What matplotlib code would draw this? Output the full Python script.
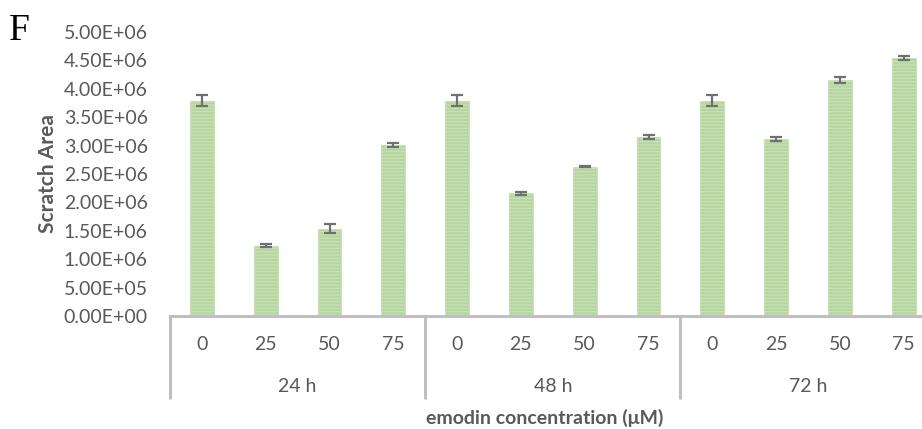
import matplotlib
matplotlib.use("Agg")
import matplotlib.pyplot as plt
import numpy as np

# Scratch area by emodin concentration at each time point
groups = ["24 h", "48 h", "72 h"]
concentrations = ["0", "25", "50", "75"]
area_24h = [3.79e6, 1.24e6, 1.54e6, 3.01e6]
area_48h = [3.79e6, 2.16e6, 2.63e6, 3.15e6]
area_72h = [3.79e6, 3.12e6, 4.15e6, 4.54e6]
err_24h = [0.10e6, 0.03e6, 0.075e6, 0.04e6]
err_48h = [0.10e6, 0.03e6, 0.01e6, 0.035e6]
err_72h = [0.10e6, 0.04e6, 0.05e6, 0.03e6]
y_ticks = np.arange(0, 5.01e6, 0.5e6)

values = area_24h + area_48h + area_72h
errors = err_24h + err_48h + err_72h

plt.rcParams["hatch.linewidth"] = 1.0
plt.rcParams["hatch.color"] = "#e2f0d9"

W, H, DPI = 922, 429, 100
fig = plt.figure(figsize=(W / DPI, H / DPI), dpi=DPI)
fig.patch.set_facecolor("white")

x0, x1 = 170, 935.6
y0, y1 = 316, 32
ax = fig.add_axes([x0 / W, 1 - y0 / H, (x1 - x0) / W, (y0 - y1) / H])

txt = "#595959"
font = ["Lato", "DejaVu Sans"]
fs = 14
n = len(values)
x = np.arange(n)
ax.bar(x, values, width=0.375, color="#b5d69f", edgecolor="#c5e0b4",
       linewidth=0.6, hatch="-----", zorder=2)
ax.errorbar(x, values, yerr=errors, fmt="none", ecolor="#707070",
            elinewidth=1.6, capsize=4.5, capthick=1.6, zorder=3)

ax.set_xlim(-0.5, n - 0.5)
ax.set_ylim(0, 5e6)
ax.set_yticks(y_ticks)
ax.set_yticklabels([f"{v:.2E}" for v in y_ticks], family=font,
                   fontsize=fs, color=txt)
ax.tick_params(axis="y", length=0, pad=16)
ax.set_xticks([])
for s in ["top", "right", "left"]:
    ax.spines[s].set_visible(False)
ax.spines["bottom"].set_color("#bfbfbf")
ax.spines["bottom"].set_linewidth(2.2)

ax.set_ylabel("Scratch Area", family=font, fontsize=15, fontweight="bold",
              color=txt, labelpad=4)

# category labels below the axis
tr = ax.get_xaxis_transform()
for i in range(n):
    ax.text(x[i], -29 / (y0 - y1), concentrations[i % 4], transform=tr,
            ha="center", va="center", family=font, fontsize=fs, color=txt,
            clip_on=False)
for g, name in enumerate(groups):
    ax.text(g * 4 + 1.5, -71 / (y0 - y1), name, transform=tr,
            ha="center", va="center", family=font, fontsize=fs, color=txt,
            clip_on=False)
for b in range(len(groups) + 1):
    ax.plot([b * 4 - 0.5] * 2, [0, -83 / (y0 - y1)], transform=tr,
            color="#bfbfbf", lw=2.2, clip_on=False, solid_capstyle="butt")

fig.text(545 / W, 1 - 418 / H, "emodin concentration (\u03bcM)", ha="center",
         va="center", family=font, fontsize=14, fontweight="bold", color=txt)
fig.text(9 / W, 1 - 31 / H, "F", ha="left", va="center",
         family="Liberation Serif", fontsize=27, color="black")

fig.savefig("out.png", dpi=DPI, facecolor="white")
